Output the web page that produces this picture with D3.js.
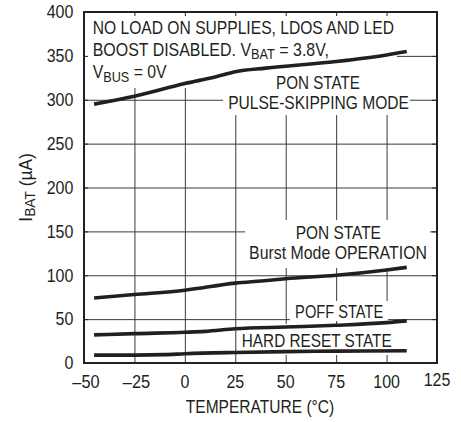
<!DOCTYPE html>
<html><head><meta charset="utf-8">
<script src="https://cdn.jsdelivr.net/npm/d3@7"></script>
<style>
html,body{margin:0;padding:0;background:#fff;}
svg{display:block;}
text{font-family:'Liberation Sans',Arial,sans-serif;fill:#231f20;}
</style></head><body>
<svg id="c" width="461" height="422"></svg>
<script>
// ---- data ----
const xTicks = [-50, -25, 0, 25, 50, 75, 100, 125];
const yTicks = [0, 50, 100, 150, 200, 250, 300, 350, 400];
const pulseT = [-45, -25, 0, 15, 25, 40, 75, 100, 110];
const pulseI = [295, 304, 318.5, 326, 332, 336, 343.5, 351, 355];
const burstT = [-45, -25, 0, 25, 38, 50, 75, 100, 110];
const burstI = [74, 78, 83, 91, 93.5, 96, 100, 106, 109];
const poffT = [-45, -25, 0, 10, 25, 50, 75, 100, 110];
const poffI = [32, 33.5, 35, 36, 39, 41, 43, 46, 48];
const hardT = [-45, -25, -10, 0, 25, 50, 75, 110];
const hardI = [9, 9, 9.5, 10.5, 12, 13, 13.5, 14];
const noteLine1 = [["NO LOAD ON SUPPLIES, LDOS AND LED", 0]];
const noteLine2 = [["BOOST DISABLED. V", 0], ["BAT", 1], [" = 3.8V,", 0]];
const noteLine3 = [["V", 0], ["BUS", 1], [" = 0V", 0]];
const xTitle = [["TEMPERATURE (°C)", 0]];
const yTitle = [["I", 0], ["BAT", 1], [" (µA)", 0]];

// ---- layout ----
const L = 84, R = 437, T = 12, B = 363;
const FS = 17.5, INK = "#231f20";
const svg = d3.select("#c");
const x = d3.scaleLinear().domain([-50, 125]).range([L, R]);
const y = d3.scaleLinear().domain([0, 400]).range([B, T]);

function addText(x0, y0, parts, opt = {}) {
  const g = svg.append("g");
  const t = g.append("text").attr("text-anchor", opt.anchor || "start").style("font-size", FS + "px");
  let sub = false;
  parts.forEach(([s, isSub]) => {
    const ts = t.append("tspan").text(s);
    if (isSub && !sub) ts.attr("dy", 3.4).style("font-size", "0.8em");
    else if (isSub) ts.style("font-size", "0.8em");
    else if (!isSub && sub) ts.attr("dy", -3.4);
    sub = !!isSub;
  });
  const w = t.node().getComputedTextLength();
  const k = opt.width ? opt.width / w : (opt.k || 1);
  g.attr("transform", `translate(${x0},${y0}) rotate(${opt.rotate || 0}) scale(${k},1)`);
  return g;
}

// grid
const gx = svg.append("g").attr("transform", `translate(0,${B})`)
  .call(d3.axisBottom(x).tickValues(xTicks.slice(1, -1)).tickSize(-(B - T)).tickFormat(""));
const gy = svg.append("g").attr("transform", `translate(${L},0)`)
  .call(d3.axisLeft(y).tickValues(yTicks.slice(1, -1)).tickSize(-(R - L)).tickFormat(""));
[gx, gy].forEach(g => {
  g.select(".domain").remove();
  g.selectAll("line").attr("stroke", "#3a3a3a").attr("stroke-width", 1);
});

// white label boxes
const boxes = [
  [L, T, 397 - L, 88 - T],
  [223, 70, 410 - 223, 115 - 70],
  [245, 220, 430 - 245, 268 - 220],
  [290, 301, 388 - 290, 321 - 301],
  [238, 324, 395 - 238, 355 - 324]
];
svg.append("g").selectAll("rect").data(boxes).join("rect")
  .attr("x", d => d[0]).attr("y", d => d[1]).attr("width", d => d[2]).attr("height", d => d[3])
  .attr("fill", "#fff");

// curves
const line = d3.line().x(d => x(d[0])).y(d => y(d[1])).curve(d3.curveMonotoneX);
[[pulseT, pulseI], [burstT, burstI], [poffT, poffI], [hardT, hardI]].forEach(([ts, is]) => {
  svg.append("path").datum(ts.map((t, i) => [t, is[i]])).attr("d", line)
    .attr("fill", "none").attr("stroke", INK).attr("stroke-width", 3.6);
});

// frame
svg.append("rect").attr("x", L).attr("y", T).attr("width", R - L).attr("height", B - T)
  .attr("fill", "none").attr("stroke", INK).attr("stroke-width", 2);

// inward ticks
const tTop = svg.append("g").attr("transform", `translate(0,${T})`)
  .call(d3.axisTop(x).tickValues(xTicks.slice(1, -1)).tickSize(-4).tickFormat(""));
const tRight = svg.append("g").attr("transform", `translate(${R},0)`)
  .call(d3.axisRight(y).tickValues(yTicks.slice(1, -1)).tickSize(-5).tickFormat(""));
const tLeft = svg.append("g").attr("transform", `translate(${L},0)`)
  .call(d3.axisLeft(y).tickValues(yTicks.slice(1, -1)).tickSize(-4).tickFormat(""));
[tTop, tRight, tLeft].forEach(g => {
  g.select(".domain").remove();
  g.selectAll("line").attr("stroke", INK).attr("stroke-width", 1);
});

// tick labels
const fmt = v => v < 0 ? "\u2013" + Math.abs(v) : String(v);
const tickW = s => s.startsWith("\u2013") ? 27.3 : 8.9 * s.length;
xTicks.forEach(v => { const s = fmt(v); addText(x(v) + (v < 0 ? 2 : 0), v === 125 ? 386 : 388.3, [[s, 0]], { anchor: "middle", width: tickW(s) }); });
yTicks.forEach(v => { const s = fmt(v); addText(73.3, y(v) + 6.3, [[s, 0]], { anchor: "end", width: tickW(s) }); });

// annotations
addText(92.7, 34.3, noteLine1, { width: 301.6 });
addText(92.7, 55.7, noteLine2, { width: 236.3 });
addText(92.7, 78.3, noteLine3, { width: 74 });
addText(318, 89.3, [["PON STATE", 0]], { anchor: "middle", width: 84 });
addText(318.5, 109.3, [["PULSE-SKIPPING MODE", 0]], { anchor: "middle", width: 181 });
addText(338.3, 239, [["PON STATE", 0]], { anchor: "middle", width: 85.3 });
addText(338, 259.3, [["Burst Mode OPERATION", 0]], { anchor: "middle", width: 178 });
addText(339.2, 318.3, [["POFF STATE", 0]], { anchor: "middle", width: 88.3 });
addText(316.7, 347, [["HARD RESET STATE", 0]], { anchor: "middle", width: 150 });

// axis titles
addText(260, 413, xTitle, { anchor: "middle", width: 148.6 });
addText(32, 187.5, yTitle, { anchor: "middle", width: 68.4, rotate: -90 });
</script>
</body></html>
